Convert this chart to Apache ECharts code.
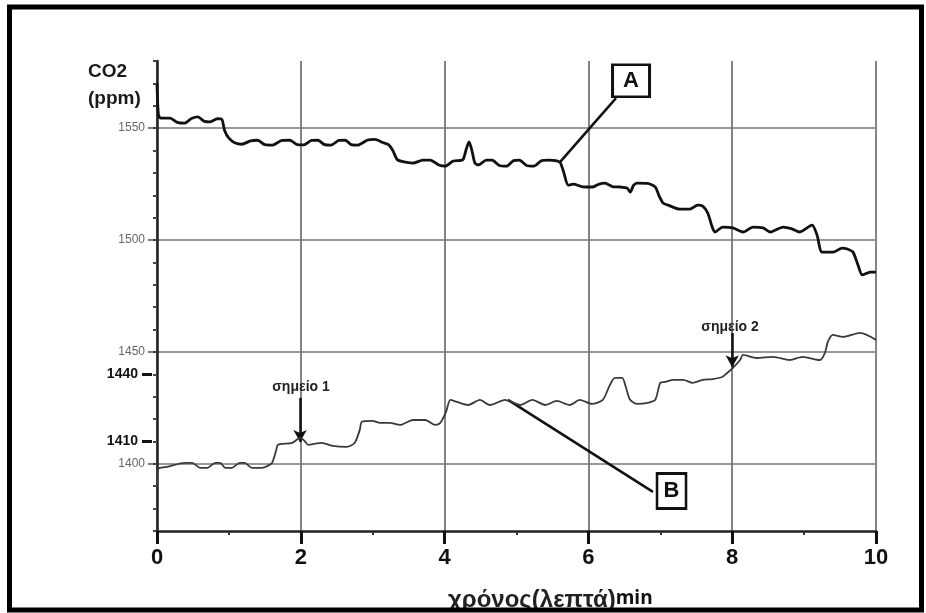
<!DOCTYPE html>
<html>
<head>
<meta charset="utf-8">
<script src="https://cdn.jsdelivr.net/npm/echarts@6/dist/echarts.min.js"></script>
<style>html,body{margin:0;padding:0;background:#fff}#c{width:926px;height:613px}</style>
</head>
<body>
<div id="c"></div>
<script>
// ---- data ----
const timeA = [0,0.02,0.05,0.18,0.28,0.38,0.48,0.57,0.66,0.74,0.84,0.9,0.94,1.0,1.08,1.18,1.3,1.4,1.5,1.6,1.74,1.85,1.95,2.04,2.15,2.24,2.33,2.42,2.53,2.62,2.7,2.79,2.93,3.03,3.14,3.22,3.28,3.34,3.42,3.56,3.7,3.8,3.92,4.01,4.12,4.25,4.3,4.34,4.38,4.42,4.47,4.58,4.66,4.76,4.86,4.96,5.04,5.14,5.24,5.35,5.45,5.6,5.65,5.72,5.79,5.92,6.06,6.15,6.23,6.34,6.44,6.54,6.58,6.63,6.68,6.82,6.93,6.98,7.04,7.11,7.27,7.41,7.52,7.59,7.66,7.72,7.76,7.87,8.01,8.15,8.29,8.43,8.53,8.71,8.83,8.94,9.11,9.18,9.25,9.4,9.53,9.6,9.68,9.75,9.81,9.92,10];
const co2A  = [1570,1556,1554.5,1554.5,1552.6,1552.2,1554.3,1555,1553,1552.8,1554.2,1554,1549,1545.5,1543.5,1542.8,1544.3,1544.6,1542.6,1542.4,1544.5,1544.6,1542.6,1542.5,1544.5,1544.6,1542.6,1542.4,1544.5,1544.6,1542.6,1542.4,1544.7,1545,1543.6,1542.6,1540,1536,1535,1534.4,1535.7,1535.7,1533.5,1533,1535.3,1535.8,1540.5,1543.8,1540,1534.5,1533.6,1535.7,1535.7,1533.3,1533,1535.5,1535.7,1533.3,1533,1535.5,1535.7,1534.8,1531,1524.5,1525,1523.8,1523.7,1525,1525.4,1523.8,1523.7,1523.2,1521.4,1524.5,1525.4,1525.3,1523.7,1520,1516.5,1515.6,1513.8,1513.8,1515.6,1515.2,1512.1,1506,1503.6,1505.8,1505.4,1503.6,1505.8,1505.4,1503.6,1505.8,1505,1503.6,1506.7,1502.2,1494.6,1494.6,1496.4,1496,1494.6,1488.8,1484.4,1485.7,1485.7];

const timeB = [0,0.01,0.04,0.14,0.39,0.49,0.6,0.7,0.81,0.88,0.95,1.04,1.15,1.22,1.32,1.46,1.54,1.6,1.66,1.68,1.88,1.99,2.06,2.1,2.2,2.29,2.45,2.64,2.75,2.82,2.85,3.0,3.1,3.24,3.38,3.56,3.73,3.87,3.94,4.02,4.08,4.17,4.33,4.49,4.63,4.84,5.05,5.22,5.4,5.56,5.74,5.88,6.05,6.2,6.3,6.37,6.47,6.52,6.58,6.68,6.82,6.93,7.0,7.07,7.18,7.32,7.45,7.59,7.73,7.86,7.93,8.01,8.11,8.15,8.34,8.57,8.8,8.98,9.22,9.29,9.33,9.4,9.54,9.78,10];
const co2B  = [1389.3,1397.3,1398.2,1398.7,1400.4,1400.4,1398.2,1398.2,1400.4,1400.4,1398.2,1398.2,1400.4,1400.4,1398.2,1398.2,1399.1,1400.4,1406.3,1408.5,1409.4,1411.6,1410,1408.5,1409,1409.4,1408,1407.6,1409.4,1415.2,1418.8,1419.2,1418.3,1418.3,1417.4,1419.6,1419.6,1417.4,1418.3,1423.2,1428.6,1427.7,1426.3,1428.6,1426.3,1428.6,1426.3,1428.6,1426.3,1428.1,1426.3,1428.6,1426.8,1428.6,1435.3,1438.4,1438.4,1434.4,1428.6,1426.8,1427.2,1428.6,1436.2,1436.6,1437.5,1437.5,1436.2,1437.5,1437.9,1438.8,1440.6,1442.9,1446.4,1448.7,1447.3,1447.8,1446.4,1447.8,1446.4,1449.6,1454.5,1457.6,1456.7,1458.5,1455.4];

const xTicks = [0, 2, 4, 6, 8, 10];
const yMajorTicks = [1400, 1450, 1500, 1550];
const yMarkedTicks = [1410, 1440];
const xRange = [0, 10];
const yRange = [1370, 1580];

// annotations (data coordinates)
const labelA = {text: 'A', box: [6.593, 1571.2], from: [5.605, 1534.8], to: [6.384, 1563.4]};
const labelB = {text: 'B', box: [7.156, 1387.9], from: [4.882, 1428.6], to: [6.898, 1387.5]};
const point1 = {text: 'σημείο 1', label: [2.003, 1434.4], from: [1.99, 1429.5], to: [1.99, 1409.8]};
const point2 = {text: 'σημείο 2', label: [7.97, 1461.2], from: [8.0, 1458.5], to: [8.0, 1443.2]};

const seriesA = timeA.map((t, i) => [t, co2A[i]]);
const seriesB = timeB.map((t, i) => [t, co2B[i]]);

const FF = '"Liberation Sans", Arial, sans-serif';
const plain = v => String(v);
const chart = echarts.init(document.getElementById('c'), null, {renderer: 'canvas'});
chart.setOption({
  animation: false,
  backgroundColor: '#fff',
  textStyle: {fontFamily: FF},
  title: [
    {text: 'CO2\n(ppm)', left: 83, top: 53,
     textStyle: {fontSize: 19, fontWeight: 'bold', color: '#1a1a1a', lineHeight: 27, fontFamily: FF}},
    {text: '{a|χρόνος(λεπτά)}{b|min}', left: 443, top: 583,
     textStyle: {rich: {
       a: {fontSize: 24, color: '#222', fontFamily: FF},
       b: {fontSize: 19, color: '#111', fontFamily: '"Open Sans", sans-serif', padding: [0, 0, 3, 0]}
     }}}
  ],
  grid: {left: 157, right: 50, top: 61, bottom: 82},
  xAxis: {
    type: 'value', min: xRange[0], max: xRange[1], interval: 2,
    axisLine: {show: true, lineStyle: {color: '#222', width: 2.5}},
    axisTick: {show: true, length: 13, lineStyle: {color: '#111', width: 3}},
    minorTick: {show: true, splitNumber: 2, length: 4, lineStyle: {color: '#333', width: 2}},
    axisLabel: {show: true, margin: 16, fontSize: 22, fontWeight: 'bold', color: '#111', fontFamily: FF,
                customValues: xTicks, formatter: plain},
    splitLine: {show: true, lineStyle: {color: '#777', width: 1.8}}
  },
  yAxis: [
    {
      type: 'value', min: yRange[0], max: yRange[1], position: 'left',
      axisLine: {show: true, onZero: false, lineStyle: {color: '#222', width: 2.5}},
      axisTick: {show: true, length: 9, customValues: yMajorTicks, lineStyle: {color: '#555', width: 1.5}},
      axisLabel: {show: true, margin: 12, fontSize: 12, color: '#666', fontFamily: FF,
                  customValues: yMajorTicks, formatter: plain},
      splitLine: {show: true, lineStyle: {color: '#999', width: 2}}
    },
    {
      type: 'value', min: yRange[0], max: yRange[1], interval: 10, position: 'left',
      axisLine: {show: false},
      axisTick: {show: true, length: 4, lineStyle: {color: '#444', width: 2}},
      axisLabel: {show: false},
      splitLine: {show: false}
    },
    {
      type: 'value', min: yRange[0], max: yRange[1], position: 'left', offset: 5,
      axisLine: {show: false},
      axisTick: {show: true, length: 10, customValues: yMarkedTicks, lineStyle: {color: '#111', width: 3}},
      axisLabel: {show: true, margin: 14, fontSize: 14, fontWeight: 'bold', color: '#111', fontFamily: FF,
                  customValues: yMarkedTicks, formatter: plain},
      splitLine: {show: false}
    }
  ],
  series: [
    {
      name: 'A', type: 'line', data: seriesA, showSymbol: false, symbol: 'none', smooth: 0.25,
      lineStyle: {color: '#111', width: 2.8}, z: 5, silent: true,
      markLine: {
        silent: true, symbol: ['none', 'none'], label: {show: false},
        lineStyle: {color: '#111', width: 2.5, type: 'solid'},
        data: [[{coord: labelA.from}, {coord: labelA.to}]]
      },
      markPoint: {
        silent: true,
        data: [{coord: labelA.box, symbol: 'rect', symbolSize: [37, 32],
                itemStyle: {color: '#fff', borderColor: '#111', borderWidth: 2.8},
                label: {show: true, position: 'inside', formatter: labelA.text, fontSize: 22, fontWeight: 'bold', color: '#111', fontFamily: FF}}]
      }
    },
    {
      name: 'B', type: 'line', data: seriesB, showSymbol: false, symbol: 'none', smooth: 0.25,
      lineStyle: {color: '#3a3a3a', width: 1.8}, z: 5, silent: true,
      markLine: {
        silent: true, label: {show: false},
        data: [
          [{coord: labelB.from, symbol: 'none'}, {coord: labelB.to, symbol: 'none', lineStyle: {color: '#111', width: 2.5, type: 'solid'}}],
          [{coord: point1.from, symbol: 'none'}, {coord: point1.to, symbol: 'arrow', symbolSize: [10, 12], lineStyle: {color: '#111', width: 2.5, type: 'solid'}}],
          [{coord: point2.from, symbol: 'none'}, {coord: point2.to, symbol: 'arrow', symbolSize: [10, 12], lineStyle: {color: '#111', width: 2.5, type: 'solid'}}]
        ]
      },
      markPoint: {
        silent: true,
        data: [
          {coord: labelB.box, symbol: 'rect', symbolSize: [29, 35],
           itemStyle: {color: '#fff', borderColor: '#111', borderWidth: 2.8},
           label: {show: true, position: 'inside', formatter: labelB.text, fontSize: 22, fontWeight: 'bold', color: '#111', fontFamily: FF}},
          {coord: point1.label, symbol: 'rect', symbolSize: [70, 16], itemStyle: {color: 'rgba(0,0,0,0)'},
           label: {show: true, position: 'inside', formatter: point1.text, fontSize: 14, fontWeight: 'bold', color: '#222', fontFamily: FF}},
          {coord: point2.label, symbol: 'rect', symbolSize: [70, 16], itemStyle: {color: 'rgba(0,0,0,0)'},
           label: {show: true, position: 'inside', formatter: point2.text, fontSize: 14, fontWeight: 'bold', color: '#222', fontFamily: FF}}
        ]
      }
    }
  ],
  graphic: [
    {type: 'rect', z: 100, silent: true,
     shape: {x: 9.5, y: 7, width: 912, height: 603},
     style: {fill: 'none', stroke: '#000', lineWidth: 5}}
  ]
});
</script>
</body>
</html>
